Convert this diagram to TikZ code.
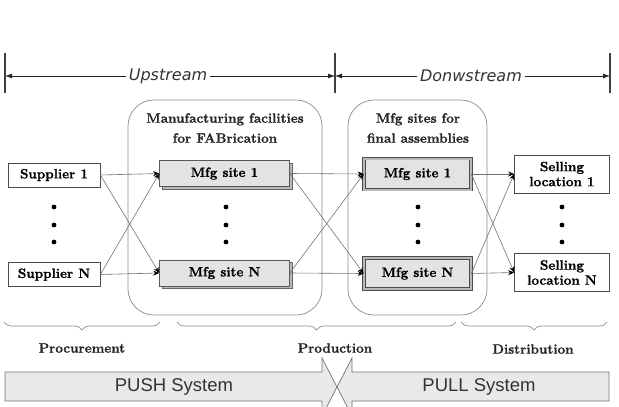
\documentclass[tikz,border=0pt]{standalone}
\usepackage{fontspec}
\setmainfont{Latin Modern Roman}[BoldFont={Latin Modern Roman/B}, BoldFeatures={FakeBold=1.2}]
\newfontfamily\dejavu{DejaVu Sans}
\newfontfamily\libsans{Liberation Sans}
\usetikzlibrary{arrows.meta,decorations.pathreplacing,shadows}
\begin{document}
\begin{tikzpicture}[x=1pt,y=-1pt,
  txt/.style={font=\bfseries\fontsize{13.5}{15}\selectfont, text=black, inner sep=0pt},
  plainbox/.style={txt, draw=black!70, fill=white, line width=0.7pt, minimum width=92pt, minimum height=24pt},
  fabbox/.style={txt, draw=black!65, fill=gray!22, line width=0.6pt, minimum width=130pt, minimum height=26pt,
     copy shadow={shadow xshift=2.5pt, shadow yshift=-2.5pt, fill=gray!55, draw=black!60}},
  asmbox/.style={txt, draw=black!70, double=gray!55, double distance=2pt, line width=0.6pt, fill=gray!22,
     minimum width=107pt, minimum height=31pt},
  sellbox/.style={txt, align=center, draw=black!70, fill=white, line width=0.7pt, minimum width=95pt, minimum height=38pt},
  groupbox/.style={draw=black!45, line width=0.7pt, rounded corners=26pt},
  gtitle/.style={font=\bfseries\fontsize{13.5}{20}\selectfont, text=black!85, align=center, inner sep=0pt},
  conn/.style={draw=black!55, line width=0.6pt, -{Stealth[length=6pt,width=5pt,black]}},
  dotc/.style={fill=black},
  topline/.style={draw=black!85, line width=0.8pt, -{Latex[length=7pt,width=5pt]}},
  bar/.style={draw=black!75, line width=1.2pt},
  topt/.style={font=\dejavu\itshape\fontsize{16}{18}\selectfont, text=black!80, inner sep=3pt},
  brc/.style={draw=black!45, line width=0.7pt, decorate, decoration={brace, amplitude=8pt}},
  lbl/.style={font=\bfseries\fontsize{13.5}{15}\selectfont, text=black!85, inner sep=0pt},
  sysarrow/.style={draw=black!55, fill=gray!17, line width=0.7pt},
  systxt/.style={font=\libsans\fontsize{18.5}{20}\selectfont, text=black!80, inner sep=0pt}
]
\useasboundingbox (0,0) rectangle (619,407);

% top dimension arrows
\draw[bar] (5,53) -- (5,93);
\draw[bar] (335,53) -- (335,93);
\draw[bar] (610,53) -- (610,93);
\coordinate (bL) at (5,76);
\coordinate (bM) at (335,76);
\coordinate (bR) at (610,76);
\node[topt] (up) at (168,76) {Upstream};
\node[topt] (down) at (471,76) {Donwstream};
\draw[topline] (up.west) -- (bL);
\draw[topline] (up.east) -- (bM);
\draw[topline] (down.west) -- (bM);
\draw[topline] (down.east) -- (bR);

% group boxes
\node[groupbox, minimum width=194pt, minimum height=215pt] (g1) at (225,207.5) {};
\node[groupbox, minimum width=139pt, minimum height=215pt] (g2) at (417.5,207.5) {};
\node[gtitle] (g1t) at (225,128) {Manufacturing facilities\\for FABrication};
\node[gtitle] (g2t) at (418,128) {Mfg sites for\\final assemblies};

% boxes
\node[plainbox] (s1) at (54,175) {Supplier 1};
\node[plainbox] (sN) at (54,274.5) {Supplier N};
\node[fabbox] (f1) at (224.5,173.5) {Mfg site 1};
\node[fabbox] (fN) at (224.5,273) {Mfg site N};
\node[asmbox] (m1) at (417.5,174) {Mfg site 1};
\node[asmbox] (mN) at (417.5,273.5) {Mfg site N};
\node[sellbox] (l1) at (562,174) {Selling\\location 1};
\node[sellbox] (lN) at (562,272.5) {Selling\\location N};

% dots
\foreach \x in {54,226,418,562}{
  \foreach \y in {207,225,242}{
    \fill[dotc] (\x,\y) circle (2.4pt);
  }
}

% connectors
\draw[conn] (s1.east) -- (f1.west);
\draw[conn] (s1.east) -- (fN.west);
\draw[conn] (sN.east) -- (f1.west);
\draw[conn] (sN.east) -- (fN.west);
\draw[conn] (f1.east) -- (m1.west);
\draw[conn] (f1.east) -- (mN.west);
\draw[conn] (fN.east) -- (m1.west);
\draw[conn] (fN.east) -- (mN.west);
\draw[conn] (m1.east) -- (l1.west);
\draw[conn] (m1.east) -- (lN.west);
\draw[conn] (mN.east) -- (l1.west);
\draw[conn] (mN.east) -- (lN.west);

% braces
\draw[brc] (160,322) -- (4,322);
\draw[brc] (456,322) -- (177,322);
\draw[brc] (607,322) -- (461,322);
\node[lbl] (proc) at (82,348) {Procurement};
\node[lbl] (prod) at (335,348) {Production};
\node[lbl] (dist) at (533,349) {Distribution};

% push / pull
\draw[sysarrow] (5,372) -- (322,372) -- (322,358) -- (337,387) -- (322,416) -- (322,401) -- (5,401) -- cycle;
\draw[sysarrow] (609,372) -- (352,372) -- (352,358) -- (337,387) -- (352,416) -- (352,401) -- (609,401) -- cycle;
\node[systxt] (push) at (174,386.5) {PUSH System};
\node[systxt] (pull) at (479,386.5) {PULL System};
\end{tikzpicture}
\end{document}
